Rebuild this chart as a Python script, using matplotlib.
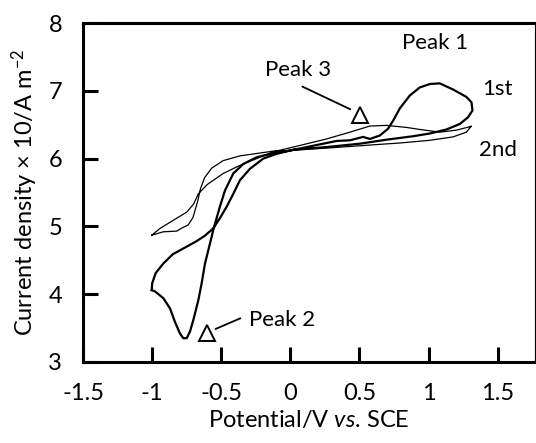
import numpy as np
import matplotlib.pyplot as plt

plt.rcParams['font.family'] = ['Lato', 'DejaVu Sans']
plt.rcParams['mathtext.fontset'] = 'custom'
plt.rcParams['mathtext.rm'] = 'Lato'
plt.rcParams['mathtext.it'] = 'Lato:italic'

# 1st cycle (thick line), closed loop
x1 = [-1.003, -0.979, -0.919, -0.871, -0.835, -0.799, -0.775, -0.750, -0.726, -0.702,
      -0.666, -0.642, -0.618, -0.585, -0.555, -0.510, -0.473, -0.413, -0.341, -0.244,
      -0.124, 0.0, 0.190, 0.334, 0.431, 0.527, 0.575, 0.647, 0.707, 0.744,
      0.792, 0.864, 0.937, 1.009, 1.081, 1.177, 1.274, 1.311, 1.318, 1.286,
      1.226, 1.130, 1.009, 0.888, 0.700, 0.503, 0.262, 0.021, -0.099, -0.196,
      -0.292, -0.365, -0.413, -0.461, -0.510, -0.558, -0.620, -0.680, -0.760, -0.850,
      -0.920, -0.975, -1.000, -1.003]
y1 = [4.06, 4.04, 3.94, 3.79, 3.59, 3.42, 3.35, 3.35, 3.45, 3.62,
      3.91, 4.16, 4.45, 4.72, 4.97, 5.29, 5.53, 5.78, 5.92, 6.02,
      6.08, 6.12, 6.20, 6.26, 6.27, 6.32, 6.29, 6.34, 6.44, 6.56,
      6.74, 6.93, 7.05, 7.10, 7.11, 7.02, 6.91, 6.83, 6.71, 6.61,
      6.51, 6.43, 6.37, 6.33, 6.28, 6.22, 6.17, 6.13, 6.07, 6.00,
      5.85, 5.68, 5.48, 5.29, 5.12, 4.97, 4.86, 4.78, 4.69, 4.59,
      4.45, 4.31, 4.16, 4.06]

# 2nd cycle (thin line), closed loop
x2 = [-1.003, -0.943, -0.847, -0.750, -0.700, -0.666, -0.600, -0.486, -0.365, -0.244,
      -0.124, 0.021, 0.262, 0.431, 0.575, 0.696, 0.840, 0.937, 1.081, 1.202,
      1.298, 1.310, 1.274, 1.177, 1.009, 0.792, 0.647, 0.300, 0.0, -0.124,
      -0.365, -0.486, -0.569, -0.620, -0.650, -0.672, -0.705, -0.740, -0.790, -0.822,
      -0.919, -1.003]
y2 = [4.87, 4.97, 5.09, 5.21, 5.33, 5.48, 5.62, 5.78, 5.90, 6.00,
      6.10, 6.17, 6.29, 6.39, 6.48, 6.49, 6.46, 6.43, 6.39, 6.42,
      6.47, 6.48, 6.39, 6.32, 6.27, 6.23, 6.21, 6.16, 6.12, 6.11,
      6.04, 5.97, 5.86, 5.72, 5.56, 5.36, 5.13, 5.02, 4.97, 4.93,
      4.92, 4.87]

xticks = [-1.5, -1, -0.5, 0, 0.5, 1, 1.5]
xticklabels = ['-1.5', '-1', '-0.5', '0', '0.5', '1', '1.5']
yticks = [3, 4, 5, 6, 7, 8]

fig = plt.figure(figsize=(5.36, 4.43), dpi=100)
ax = fig.add_axes([0.155, 0.183, 0.843, 0.765])

ax.plot(x1, y1, color='black', lw=1.6)
ax.plot(x2, y2, color='black', lw=0.9)

# peak markers (hollow triangles)
ax.plot([0.503], [6.64], marker='^', ms=11, mfc='white', mec='black', mew=1.4, ls='none')
ax.plot([-0.606], [3.42], marker='^', ms=11, mfc='white', mec='black', mew=1.4, ls='none')

ax.annotate('', xy=(0.452, 6.71), xytext=(0.069, 7.08),
            arrowprops=dict(arrowstyle='-', color='black', lw=1.3))
ax.annotate('', xy=(-0.560, 3.47), xytext=(-0.343, 3.66),
            arrowprops=dict(arrowstyle='-', color='black', lw=1.3))

fs = 16
ax.text(1.045, 7.71, 'Peak 1', fontsize=fs, ha='center', va='center')
ax.text(0.055, 7.30, 'Peak 3', fontsize=fs, ha='center', va='center')
ax.text(-0.06, 3.62, 'Peak 2', fontsize=fs, ha='center', va='center')
ax.text(1.50, 7.03, '1st', fontsize=fs, ha='center', va='center')
ax.text(1.50, 6.12, '2nd', fontsize=fs, ha='center', va='center')

ax.set_xlim(-1.5, 1.77)
ax.set_ylim(3, 8)
ax.set_xticks(xticks)
ax.set_xticklabels(xticklabels)
ax.set_yticks(yticks)
ax.tick_params(direction='in', length=11, width=2.2, labelsize=17)
ax.tick_params(axis='x', pad=15)
ax.tick_params(axis='y', pad=15)

for side in ['left', 'bottom', 'top']:
    ax.spines[side].set_linewidth(2.2)
ax.spines['right'].set_linewidth(0.8)

ax.set_xlabel('Potential/V $\\it{vs}$. SCE', fontsize=17, labelpad=4)
ax.set_ylabel('Current density \u00d7 10/A m$^{-2}$', fontsize=17, labelpad=6)

fig.savefig('out.png', dpi=100)
